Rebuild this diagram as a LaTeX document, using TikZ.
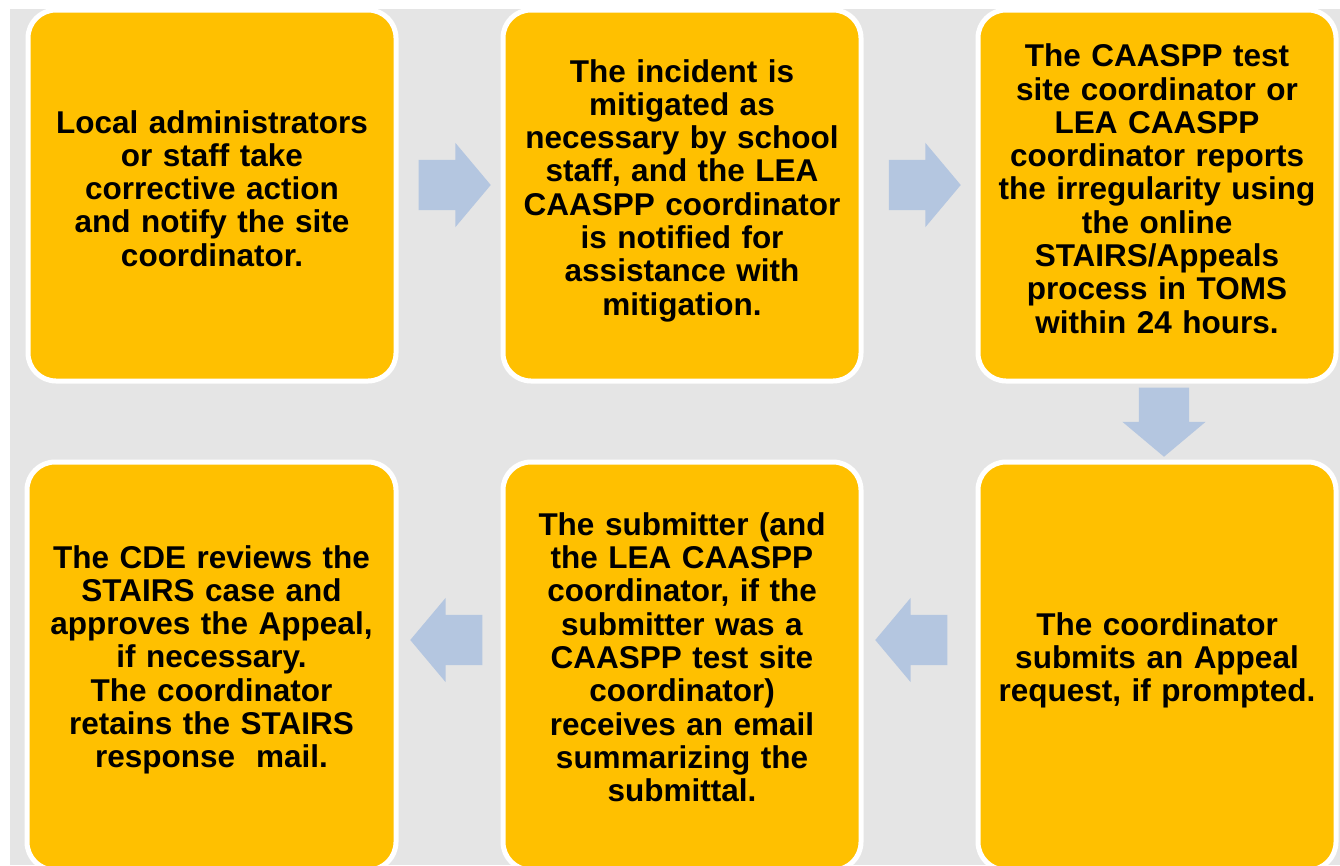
\documentclass[tikz,border=0pt]{standalone}
\usepackage{fontspec}
\setmainfont{Liberation Sans}
\usetikzlibrary{shapes.arrows}

\definecolor{stepgold}{RGB}{255,192,0}
\definecolor{panelgray}{RGB}{229,229,229}
\definecolor{flowblue}{RGB}{180,198,224}

\begin{document}
\begin{tikzpicture}[x=1pt, y=-1pt,
    stepbox/.style={rectangle, rounded corners=28pt, fill=stepgold, draw=white, line width=5pt, inner sep=0pt},
    steptext/.style={anchor=base, text width=355pt, align=center, inner sep=0pt, font={\fontsize{31.5pt}{33.3pt}\selectfont\bfseries}},
    flowarrow/.style={single arrow, fill=flowblue, inner xsep=0pt, inner ysep=25pt, minimum height=72pt, minimum width=84pt, single arrow head extend=17pt, single arrow tip angle=100, anchor=tip}]
    \useasboundingbox (0,0) rectangle (1340,865);
    \clip (0,0) rectangle (1340,865);

    % Gray panel
    \fill[panelgray] (10,9) rectangle (1340,865);

    % Top row boxes
    \node[stepbox, minimum width=368pt, minimum height=371pt] (box1) at (212,195.5) {};
    \node[stepbox, minimum width=358pt, minimum height=371pt] (box2) at (682,195.5) {};
    \node[stepbox, minimum width=358pt, minimum height=371pt] (box3) at (1157,195.5) {};

    % Bottom row boxes (run off the lower edge)
    \node[stepbox, minimum width=369pt, minimum height=408pt] (box4) at (211.5,666) {};
    \node[stepbox, minimum width=358pt, minimum height=408pt] (box5) at (682,666) {};
    \node[stepbox, minimum width=358pt, minimum height=408pt] (box6) at (1157,666) {};

    % Block arrows
    \node[flowarrow] (arrow12) at (491,185) {};
    \node[flowarrow] (arrow23) at (961,185) {};
    \node[flowarrow, inner xsep=25pt, inner ysep=0pt, minimum height=69pt, minimum width=83pt, single arrow head extend=16.5pt, shape border rotate=270] (arrow36) at (1164,457) {};
    \node[flowarrow, shape border rotate=180] (arrow65) at (875,640) {};
    \node[flowarrow, shape border rotate=180] (arrow54) at (410,640) {};

    % Step texts
    \node[steptext] (txt1) at (212,133) {Local administrators\\or staff take\\corrective action\\and notify the site\\coordinator.};
    \node[steptext] (txt2) at (682,82) {The incident is\\mitigated as\\necessary by school\\staff, and the LEA\\CAASPP coordinator\\is notified for\\assistance with\\mitigation.};
    \node[steptext] (txt3) at (1157,66.7) {The CAASPP test\\site coordinator or\\LEA CAASPP\\coordinator reports\\the irregularity using\\the online\\STAIRS/Appeals\\process in TOMS\\within 24 hours.};
    \node[steptext] (txt4) at (211.5,568) {The CDE reviews the\\STAIRS case and\\approves the Appeal,\\if necessary.\\The coordinator\\retains the STAIRS\\response~~mail.};
    \node[steptext] (txt5) at (682,535.3) {The submitter (and\\the LEA CAASPP\\coordinator, if the\\submitter was a\\CAASPP test site\\coordinator)\\receives an email\\summarizing the\\submittal.};
    \node[steptext] (txt6) at (1157,635) {The coordinator\\submits an Appeal\\request, if prompted.};
\end{tikzpicture}
\end{document}
